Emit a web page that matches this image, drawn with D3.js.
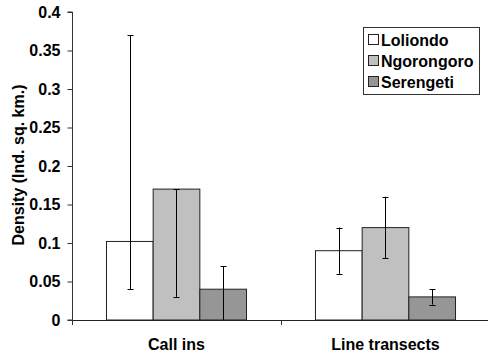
<!DOCTYPE html>
<html><head><meta charset="utf-8">
<script src="https://cdn.jsdelivr.net/npm/d3@7"></script>
<style>body{margin:0;background:#fff}svg{display:block}text{font-family:"Liberation Sans",Arial,sans-serif;font-weight:bold;font-size:16px;fill:#000}</style>
</head><body><svg id="c" width="488" height="356"></svg>
<script>
const categories = ["Call ins", "Line transects"];
const series = ["Loliondo", "Ngorongoro", "Serengeti"];
const colors = ["#ffffff", "#c0c0c0", "#969696"];
const values = [[0.102, 0.17, 0.04], [0.09, 0.12, 0.03]];
const errLow = [[0.04, 0.03, 0.0], [0.06, 0.08, 0.02]];
const errHigh = [[0.37, 0.17, 0.07], [0.12, 0.16, 0.04]];
const yTicks = [0, 0.05, 0.1, 0.15, 0.2, 0.25, 0.3, 0.35, 0.4];
const yLabel = "Density (Ind. sq. km.)";

const svg = d3.select("#c");
const mLeft = 72, mRight = 490, mTop = 12, mBottom = 320;
const y = d3.scaleLinear().domain([0, 0.4]).range([mBottom, mTop]);
const x0 = d3.scaleBand().domain(categories).range([mLeft, mRight]).padding(0);
const bw = x0.bandwidth();
const x1 = d3.scaleBand().domain(series).range([bw * 0.165, bw * 0.835]).padding(0);

// bars
categories.forEach((c, ci) => {
  const g = svg.append("g").attr("transform", `translate(${x0(c)},0)`);
  series.forEach((s, si) => {
    g.append("rect").attr("x", x1(s)).attr("y", y(values[ci][si]))
      .attr("width", x1.bandwidth()).attr("height", y(0) - y(values[ci][si]))
      .attr("fill", colors[si]).attr("stroke", "#222").attr("stroke-width", 1);
  });
  series.forEach((s, si) => {
    const cx = Math.round(x1(s) + x1.bandwidth() / 2) + 0.5;
    g.append("line").attr("x1", cx).attr("x2", cx).attr("y1", y(errLow[ci][si])).attr("y2", y(errHigh[ci][si]))
      .attr("stroke", "#000").attr("stroke-width", 1);
    [errLow[ci][si], errHigh[ci][si]].forEach(v => {
      if (v > 0) g.append("line").attr("x1", cx - 3).attr("x2", cx + 3).attr("y1", Math.round(y(v)) + 0.5).attr("y2", Math.round(y(v)) + 0.5)
        .attr("stroke", "#000").attr("stroke-width", 1);
    });
  });
});

// y axis
const ya = svg.append("g").attr("transform", `translate(${mLeft + 0.5},0)`)
  .call(d3.axisLeft(y).tickValues(yTicks).tickFormat(d => d3.format("")(d)).tickSize(5).tickPadding(7));
ya.select(".domain").attr("stroke", "#333").attr("d", `M-5,${mBottom}H0V${mTop}H-5`);
ya.selectAll(".tick line").attr("stroke", "#333");
ya.selectAll("text").attr("font-size", 16).attr("font-weight", "bold").attr("font-family", "Liberation Sans, Arial, sans-serif").attr("fill", "#000");

// x axis
svg.append("line").attr("x1", mLeft).attr("x2", mRight).attr("y1", mBottom + 0.5).attr("y2", mBottom + 0.5).attr("stroke", "#222");
const bounds = [mLeft, ...categories.map(c => x0(c) + bw)];
svg.selectAll(".xt").data(bounds).enter().append("line")
  .attr("x1", d => Math.round(d) + 0.5).attr("x2", d => Math.round(d) + 0.5)
  .attr("y1", mBottom).attr("y2", mBottom + 5).attr("stroke", "#333");
svg.selectAll(".xl").data(categories).enter().append("text")
  .attr("x", d => x0(d) + bw / 2).attr("y", 350).attr("text-anchor", "middle").text(d => d);

// y label
svg.append("text").attr("transform", `translate(24,165) rotate(-90)`).attr("text-anchor", "middle").text(yLabel);

// legend
const lg = svg.append("g");
lg.append("rect").attr("x", 363.5).attr("y", 27.5).attr("width", 116).attr("height", 67).attr("fill", "#fff").attr("stroke", "#333");
series.forEach((s, i) => {
  const base = 46 + i * 21;
  lg.append("rect").attr("x", 368.5).attr("y", base - 11.5).attr("width", 10).attr("height", 10).attr("fill", colors[i]).attr("stroke", "#222");
  lg.append("text").attr("x", 381).attr("y", base).text(s);
});
</script></body></html>
